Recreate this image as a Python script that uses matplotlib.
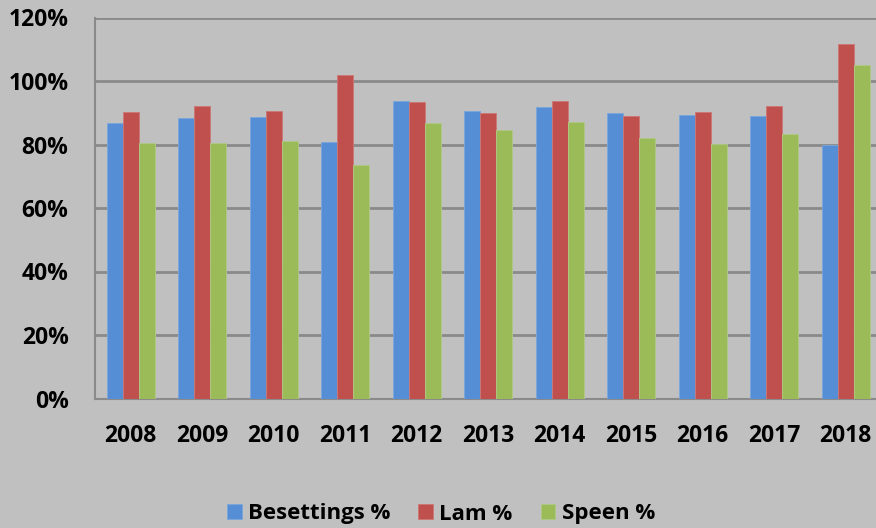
import numpy as np
import matplotlib.pyplot as plt
from matplotlib.ticker import FuncFormatter

# data
years = ["2008", "2009", "2010", "2011", "2012", "2013",
         "2014", "2015", "2016", "2017", "2018"]
besettings = [86.7, 88.2, 88.7, 80.8, 93.6, 90.5, 91.8, 90.0, 89.2, 88.9, 79.9]
lam = [90.3, 92.1, 90.6, 101.9, 93.4, 90.0, 93.6, 89.1, 90.2, 92.2, 111.5]
speen = [80.4, 80.4, 81.2, 73.4, 86.7, 84.5, 87.1, 82.2, 80.3, 83.4, 104.9]

series_names = ["Besettings %", "Lam %", "Speen %"]
colors = ["#558ed5", "#c0504d", "#9bbb59"]
edges = ["#7aa6dc", "#cc7775", "#b0c985"]
bg = "#c0c0c0"

plt.rcParams["font.family"] = ["Open Sans", "DejaVu Sans"]
plt.rcParams["font.weight"] = "bold"

fig = plt.figure(figsize=(8.76, 5.28), dpi=100, facecolor=bg)
ax = fig.add_axes([95 / 876, 1 - 398.5 / 528, 786.5 / 876, (398.5 - 17.5) / 528])
ax.set_facecolor(bg)

x = np.arange(len(years))
w = 1 / 4.5
for i, (vals, name) in enumerate(zip([besettings, lam, speen], series_names)):
    ax.bar(x + (i - 1) * w, vals, width=w, color=colors[i], label=name,
           edgecolor=edges[i], linewidth=0.6, zorder=3)

ax.set_xlim(-0.5, len(years) - 0.5)
ax.set_ylim(0, 120)
ax.set_yticks(range(0, 121, 20))
ax.yaxis.set_major_formatter(FuncFormatter(lambda v, p: f"{v:.0f}%"))
ax.set_xticks(x)
ax.set_xticklabels(years)
ax.grid(axis="y", color="#8a8a8a", linewidth=2, zorder=1)
ax.tick_params(axis="y", length=0, pad=19, labelsize=16.5)
ax.tick_params(axis="x", length=0, pad=18, labelsize=16.5)

for side in ["top", "right"]:
    ax.spines[side].set_visible(False)
for side in ["left", "bottom"]:
    ax.spines[side].set_color("#8a8a8a")
    ax.spines[side].set_linewidth(1.5)

fig.legend(loc="center", bbox_to_anchor=(441 / 876, 1 - 514 / 528), ncol=3,
           frameon=False, fontsize=16, handlelength=0.65, handleheight=0.65,
           handletextpad=0.3, columnspacing=1.25)

fig.savefig("out.png", dpi=100, facecolor=bg)
